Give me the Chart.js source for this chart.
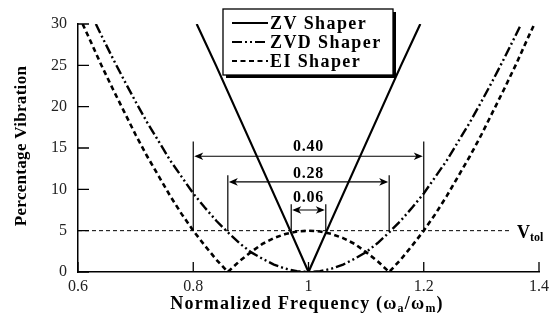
<!DOCTYPE html>
<html>
<head>
<meta charset="utf-8">
<script src="https://cdn.jsdelivr.net/npm/chart.js@4.4.0/dist/chart.umd.min.js"></script>
<style>
  html, body { margin: 0; padding: 0; background: #fff; }
  #wrap { width: 555px; height: 318px; }
</style>
</head>
<body>
<div id="wrap"><canvas id="c" width="555" height="318"></canvas></div>
<script>
// ---- data ----
const seriesNames = ['ZV Shaper', 'ZVD Shaper', 'EI Shaper'];

const freqZV = [0.806, 0.84, 0.88, 0.92, 0.96, 1.0, 1.04, 1.08, 1.12, 1.16, 1.194];
const vibZV  = [30, 24.9, 18.7, 12.5, 6.3, 0, 6.3, 12.5, 18.7, 24.9, 30];

const freqZVD = [0.631, 0.64, 0.66, 0.68, 0.70, 0.72, 0.74, 0.76, 0.78, 0.80, 0.82, 0.84, 0.86, 0.88, 0.90, 0.92, 0.94, 0.96, 0.98, 1.00,
                 1.02, 1.04, 1.06, 1.08, 1.10, 1.12, 1.14, 1.16, 1.18, 1.20, 1.22, 1.24, 1.26, 1.28, 1.30, 1.32, 1.34, 1.36, 1.369];
const vibZVD  = [30, 28.7, 25.9, 23.2, 20.6, 18.1, 15.8, 13.5, 11.5, 9.5, 7.8, 6.2, 4.8, 3.5, 2.4, 1.6, 0.9, 0.4, 0.1, 0,
                 0.1, 0.4, 0.9, 1.6, 2.4, 3.5, 4.8, 6.2, 7.8, 9.5, 11.5, 13.5, 15.8, 18.1, 20.6, 23.2, 25.9, 28.7, 30];

const freqEI = [0.608, 0.62, 0.64, 0.66, 0.68, 0.70, 0.72, 0.74, 0.76, 0.78, 0.80, 0.82, 0.84, 0.86, 0.88, 0.90, 0.92, 0.94, 0.96, 0.98, 1.00,
                1.02, 1.04, 1.06, 1.08, 1.10, 1.12, 1.14, 1.16, 1.18, 1.20, 1.22, 1.24, 1.26, 1.28, 1.30, 1.32, 1.34, 1.36, 1.38, 1.392];
const vibEI  = [30, 28.2, 25.1, 22.2, 19.4, 16.6, 14.0, 11.6, 9.2, 7.0, 5.0, 3.2, 1.5, 0, 1.3, 2.4, 3.4, 4.1, 4.6, 4.9, 5.0,
                4.9, 4.6, 4.1, 3.4, 2.4, 1.3, 0, 1.5, 3.2, 5.0, 7.0, 9.2, 11.6, 14.0, 16.6, 19.4, 22.2, 25.1, 28.2, 30];

const xTickValues = [0.6, 0.8, 1.0, 1.2, 1.4];
const xTickLabels = ['0.6', '0.8', '1', '1.2', '1.4'];
const yTickValues = [0, 5, 10, 15, 20, 25, 30];
const yTickLabels = ['0', '5', '10', '15', '20', '25', '30'];

const vTol = 5;
const vTolEnd = 1.348;
const spanLeft   = [0.80, 0.86, 0.97];
const spanRight  = [1.20, 1.14, 1.03];
const spanLabels = ['0.40', '0.28', '0.06'];
const spanArrowY = [14.0, 10.9, 7.5];
const spanTopY   = [15.8, 11.7, 8.2];
const spanLabelY = [15.1, 11.85, 8.95];

const xTitleParts = ['Normalized Frequency (\u03c9', 'a', '/\u03c9', 'm', ')'];
const yTitle = 'Percentage Vibration';

// ---- helpers ----
const SERIF = '"Liberation Serif", "Times New Roman", serif';
const toPts = (xs, ys) => xs.map((x, i) => ({ x: x, y: ys[i] }));
const dashes = [[], [10, 3, 2, 3, 2, 3], [5, 3.5]];

function arrowHead(ctx, x, y, dir) {
  ctx.beginPath();
  ctx.moveTo(x, y);
  ctx.lineTo(x - dir * 9, y - 3.8);
  ctx.lineTo(x - dir * 6.5, y);
  ctx.lineTo(x - dir * 9, y + 3.8);
  ctx.closePath();
  ctx.fill();
}

const decor = {
  id: 'decor',
  afterDatasetsDraw(chart) {
    const ctx = chart.ctx;
    const xs = chart.scales.x, ys = chart.scales.y;
    const area = chart.chartArea;
    ctx.save();
    // Vtol line
    ctx.strokeStyle = '#000';
    ctx.lineWidth = 1;
    ctx.setLineDash([4, 3]);
    ctx.beginPath();
    const yv = ys.getPixelForValue(vTol);
    ctx.moveTo(area.left, yv);
    ctx.lineTo(xs.getPixelForValue(vTolEnd), yv);
    ctx.stroke();
    ctx.setLineDash([]);
    // V_tol label
    ctx.fillStyle = '#000';
    ctx.textBaseline = 'alphabetic';
    ctx.textAlign = 'left';
    ctx.font = 'bold 18px ' + SERIF;
    const vx = xs.getPixelForValue(vTolEnd) + 8;
    ctx.fillText('V', vx, yv + 7);
    const vw = ctx.measureText('V').width;
    ctx.font = 'bold 12px ' + SERIF;
    ctx.fillText('tol', vx + vw, yv + 10);

    // dimension spans
    ctx.lineWidth = 1.2;
    for (let i = 0; i < spanLabels.length; i++) {
      const xl = xs.getPixelForValue(spanLeft[i]);
      const xr = xs.getPixelForValue(spanRight[i]);
      const yt = ys.getPixelForValue(spanTopY[i]);
      const ya = ys.getPixelForValue(spanArrowY[i]);
      ctx.beginPath();
      ctx.moveTo(xl, yv); ctx.lineTo(xl, yt);
      ctx.moveTo(xr, yv); ctx.lineTo(xr, yt);
      ctx.moveTo(xl + 3, ya); ctx.lineTo(xr - 3, ya);
      ctx.stroke();
      arrowHead(ctx, xl + 1, ya, -1);
      arrowHead(ctx, xr - 1, ya, 1);
      ctx.font = 'bold 16px ' + SERIF;
      ctx.textAlign = 'center';
      ctx.textBaseline = 'middle';
      ctx.letterSpacing = '0.8px';
      ctx.fillText(spanLabels[i], (xl + xr) / 2, ys.getPixelForValue(spanLabelY[i]));
      ctx.letterSpacing = '0px';
    }
    ctx.restore();
  },
  afterDraw(chart) {
    const ctx = chart.ctx;
    const xs = chart.scales.x, ys = chart.scales.y;
    const area = chart.chartArea;
    ctx.save();
    // inward ticks
    ctx.strokeStyle = '#000';
    ctx.lineWidth = 1.3;
    ctx.beginPath();
    xTickValues.forEach(v => {
      const px = xs.getPixelForValue(v);
      ctx.moveTo(px, area.bottom); ctx.lineTo(px, area.bottom - 10);
    });
    yTickValues.forEach(v => {
      const py = ys.getPixelForValue(v);
      ctx.moveTo(area.left, py); ctx.lineTo(area.left + 11, py);
    });
    ctx.stroke();

    // legend box
    const bx = 223, by = 9, bw = 170, bh = 66;
    ctx.fillStyle = '#000';
    ctx.fillRect(bx + 3, by + 3, bw, bh);
    ctx.fillStyle = '#fff';
    ctx.fillRect(bx, by, bw, bh);
    ctx.strokeStyle = '#000';
    ctx.lineWidth = 1.3;
    ctx.strokeRect(bx, by, bw, bh);
    ctx.font = 'bold 18px ' + SERIF;
    ctx.letterSpacing = '1.4px';
    ctx.textAlign = 'left';
    ctx.textBaseline = 'middle';
    seriesNames.forEach((name, i) => {
      const ry = by + 14 + i * 19;
      ctx.setLineDash(dashes[i]);
      ctx.lineWidth = 2;
      ctx.beginPath();
      ctx.moveTo(bx + 9, ry); ctx.lineTo(bx + 45, ry);
      ctx.stroke();
      ctx.setLineDash([]);
      ctx.fillStyle = '#000';
      ctx.fillText(name, bx + 47, ry + 1);
    });
    ctx.letterSpacing = '0px';

    // y title
    ctx.save();
    ctx.translate(22, 146);
    ctx.rotate(-Math.PI / 2);
    ctx.font = 'bold 17px ' + SERIF;
    ctx.textAlign = 'center';
    ctx.textBaseline = 'middle';
    ctx.letterSpacing = '0.3px';
    ctx.fillText(yTitle, 0, 0);
    ctx.restore();

    // x title with subscripts
    const big = 'bold 18px ' + SERIF, small = 'bold 12px ' + SERIF;
    ctx.letterSpacing = '1.2px';
    let total = 0;
    const widths = xTitleParts.map((p, i) => {
      ctx.font = (i % 2 === 1) ? small : big;
      const w = ctx.measureText(p).width;
      total += w;
      return w;
    });
    let cx = 307 - total / 2;
    const baseY = 309;
    ctx.textAlign = 'left';
    ctx.textBaseline = 'alphabetic';
    xTitleParts.forEach((p, i) => {
      ctx.font = (i % 2 === 1) ? small : big;
      ctx.fillText(p, cx, baseY + ((i % 2 === 1) ? 3 : 0));
      cx += widths[i];
    });
    ctx.restore();
  }
};

const ctx = document.getElementById('c').getContext('2d');
new Chart(ctx, {
  type: 'line',
  data: {
    datasets: [
      { label: seriesNames[0], data: toPts(freqZV, vibZV), borderColor: '#000', borderWidth: 2.2, borderDash: dashes[0], pointRadius: 0, fill: false },
      { label: seriesNames[1], data: toPts(freqZVD, vibZVD), borderColor: '#000', borderWidth: 2.4, borderDash: dashes[1], pointRadius: 0, fill: false },
      { label: seriesNames[2], data: toPts(freqEI, vibEI), borderColor: '#000', borderWidth: 2.6, borderDash: dashes[2], pointRadius: 0, fill: false }
    ]
  },
  options: {
    responsive: false,
    animation: false,
    devicePixelRatio: 1,
    layout: { padding: { left: 0, right: 16, top: 24, bottom: 0 } },
    plugins: { legend: { display: false }, tooltip: { enabled: false } },
    scales: {
      x: {
        type: 'linear', min: 0.6, max: 1.4,
        afterBuildTicks: s => { s.ticks = xTickValues.map(v => ({ value: v })); },
        afterFit: s => { s.height = 46; },
        grid: { display: false, drawTicks: false },
        border: { display: true, color: '#000', width: 1.5 },
        ticks: {
          padding: 5,
          color: '#222',
          font: { family: SERIF, size: 16 },
          callback: (v, i) => xTickLabels[i]
        }
      },
      y: {
        type: 'linear', min: 0, max: 30,
        afterBuildTicks: s => { s.ticks = yTickValues.map(v => ({ value: v })); },
        afterFit: s => { s.width = 78; },
        grid: { display: false, drawTicks: false },
        border: { display: true, color: '#000', width: 1.5 },
        ticks: {
          padding: 11,
          color: '#222',
          font: { family: SERIF, size: 16 },
          callback: (v, i) => yTickLabels[i]
        }
      }
    }
  },
  plugins: [decor]
});
</script>
</body>
</html>
